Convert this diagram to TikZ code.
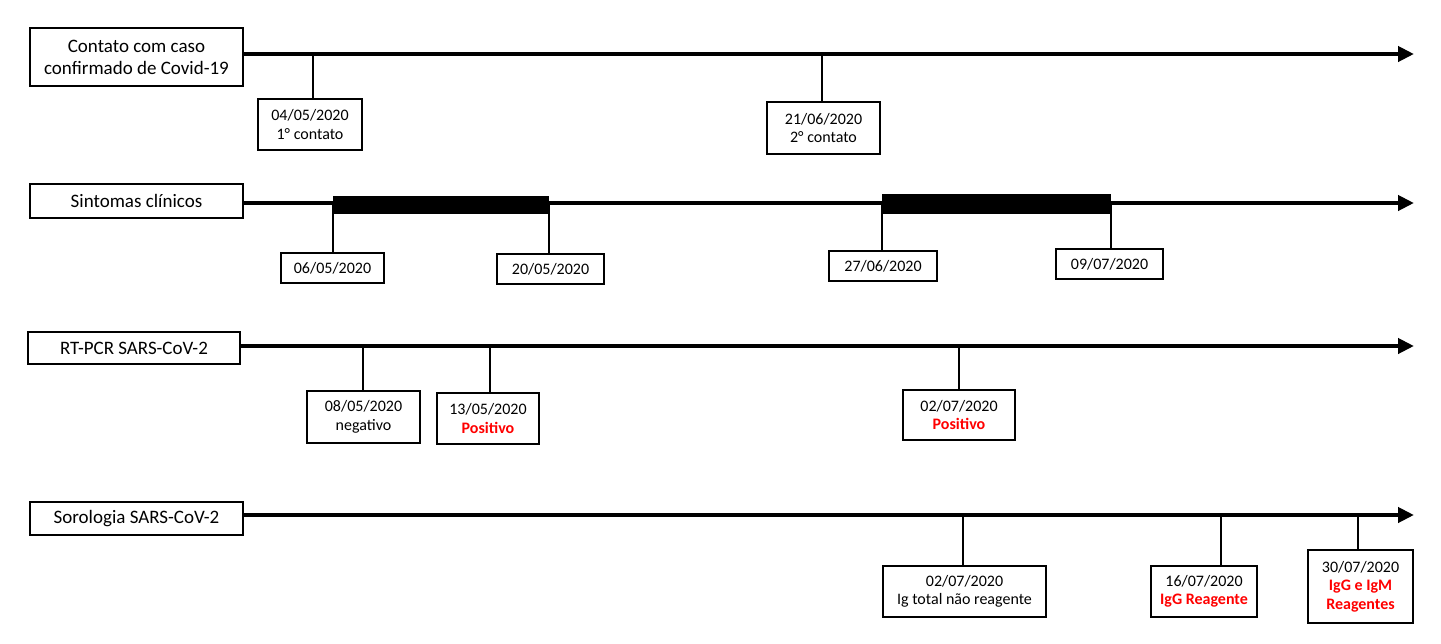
\documentclass[tikz,border=0pt]{standalone}
\usepackage{fontspec}
\setmainfont{Carlito}
\usetikzlibrary{arrows.meta}

\begin{document}
\begin{tikzpicture}[x=1pt,y=-1pt,
  labelbox/.style={draw, line width=2pt, inner sep=0pt, align=center,
    font=\fontsize{19}{22}\selectfont},
  datebox/.style={draw, line width=2pt, inner sep=0pt, align=center,
    font=\fontsize{16}{18.5}\selectfont},
  axisline/.style={line width=4pt, -{Triangle[length=16pt,width=15pt]}},
  tickline/.style={line width=2pt}]
\def\pos#1{\textcolor{red}{\bfseries #1}}
\useasboundingbox (0,0) rectangle (1441,643);

% row labels
\node[labelbox, minimum width=213pt, minimum height=58pt] (contato) at (136.5,57) {Contato com caso\\confirmado de Covid-19};
\node[labelbox, minimum width=213pt, minimum height=34pt] (sintomas) at (136.5,201) {Sintomas clínicos};
\node[labelbox, minimum width=212pt, minimum height=32pt] (rtpcr) at (134,348) {RT-PCR SARS-CoV-2};
\node[labelbox, minimum width=213pt, minimum height=33pt] (soro) at (136.5,518.5) {Sorologia SARS-CoV-2};

% axis ends
\coordinate (end1) at (1414,54);
\coordinate (end2) at (1414,203);
\coordinate (end3) at (1414,346);
\coordinate (end4) at (1414,515);

% symptom bars
\fill (333,196) rectangle (549,214);
\fill (882,194) rectangle (1111,214);

\draw[axisline] (contato.east|-end1) -- (end1);
\draw[axisline] (sintomas.east|-end2) -- (end2);
\draw[axisline] (rtpcr.east|-end3) -- (end3);
\draw[axisline] (soro.east|-end4) -- (end4);

% dates
\node[datebox, minimum width=104pt, minimum height=51pt] (c1) at (310,124.5) {04/05/2020\\1° contato};
\node[datebox, minimum width=113pt, minimum height=52pt] (c2) at (823.5,128) {21/06/2020\\2° contato};
\node[datebox, minimum width=103pt, minimum height=30pt] (s1) at (332.5,268) {06/05/2020};
\node[datebox, minimum width=107pt, minimum height=30pt] (s2) at (550.5,269) {20/05/2020};
\node[datebox, minimum width=108pt, minimum height=30pt] (s3) at (883,266) {27/06/2020};
\node[datebox, minimum width=107pt, minimum height=30pt] (s4) at (1109.5,264) {09/07/2020};
\node[datebox, minimum width=113pt, minimum height=52pt] (r1) at (363.5,417) {08/05/2020\\negativo};
\node[datebox, minimum width=102pt, minimum height=51pt] (r2) at (488,418.5) {13/05/2020\\\pos{Positivo}};
\node[datebox, minimum width=112pt, minimum height=50pt] (r3) at (959,415) {02/07/2020\\\pos{Positivo}};
\node[datebox, minimum width=163pt, minimum height=51pt] (g1) at (964.5,591.5) {02/07/2020\\Ig total não reagente};
\node[datebox, minimum width=106pt, minimum height=51pt] (g2) at (1204,591.5) {16/07/2020\\\pos{IgG Reagente}};
\node[datebox, minimum width=105pt, minimum height=73pt] (g3) at (1360.5,586.5) {30/07/2020\\\pos{IgG e IgM}\\\pos{Reagentes}};

% ticks
\foreach \x/\y/\b in {313/54/c1, 822/54/c2, 333/203/s1, 549/203/s2, 882/203/s3, 1111/203/s4,
  363/346/r1, 490/346/r2, 959/346/r3, 963/515/g1, 1221/515/g2, 1358/515/g3} {
  \coordinate (t\b) at (\x,\y);
  \draw[tickline] (t\b) -- (t\b|-\b.north);
}
\end{tikzpicture}
\end{document}
